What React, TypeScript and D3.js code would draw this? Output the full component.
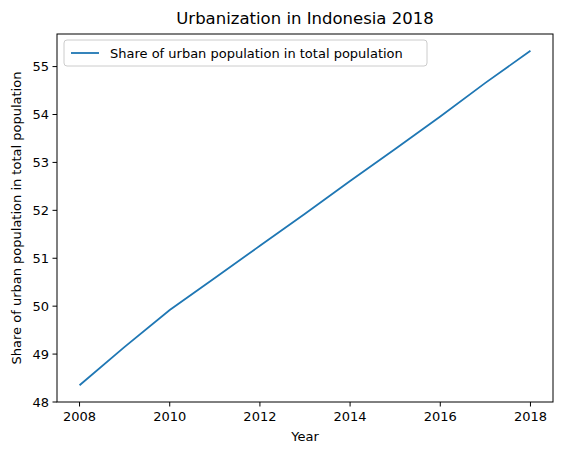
import React from "react";
import * as d3 from "d3";

const years = [2008, 2009, 2010, 2011, 2012, 2013, 2014, 2015, 2016, 2017, 2018];
const urbanShare = [48.35, 49.15, 49.92, 50.59, 51.26, 51.93, 52.61, 53.28, 53.96, 54.66, 55.33];
const xTicks = [2008, 2010, 2012, 2014, 2016, 2018];
const yTicks = [48, 49, 50, 51, 52, 53, 54, 55];

const W = 562;
const H = 455;
const left = 57;
const right = 553;
const top = 34;
const bottom = 402;
const blue = "#1f77b4";
const font = "DejaVu Sans, sans-serif";

export default function App() {
  const x = d3.scaleLinear().domain([2007.5, 2018.5]).range([left, right]);
  const y = d3.scaleLinear().domain([48.0, 55.68]).range([bottom, top]);
  const line = d3
    .line<number>()
    .x((_, i) => x(years[i]))
    .y((d) => y(d));

  return (
    <svg
      width={W}
      height={H}
      style={{ position: "absolute", left: 0, top: 0, background: "white" }}
      fontFamily={font}
    >
      <text x={(left + right) / 2} y={24} textAnchor="middle" fontSize={16.5}>
        Urbanization in Indonesia 2018
      </text>
      <path d={line(urbanShare) ?? ""} fill="none" stroke={blue} strokeWidth={1.8} />
      <rect x={left} y={top} width={right - left} height={bottom - top} fill="none" stroke="black" strokeWidth={1} />
      {xTicks.map((t) => (
        <g key={t} transform={`translate(${x(t)},${bottom})`}>
          <line y2={4.5} stroke="black" />
          <text y={19} textAnchor="middle" fontSize={13}>{t}</text>
        </g>
      ))}
      {yTicks.map((t) => (
        <g key={t} transform={`translate(${left},${y(t)})`}>
          <line x2={-4.5} stroke="black" />
          <text x={-8} dy="0.35em" textAnchor="end" fontSize={13}>{t}</text>
        </g>
      ))}
      <text x={(left + right) / 2} y={441} textAnchor="middle" fontSize={13}>Year</text>
      <text
        transform={`translate(21,${(top + bottom) / 2}) rotate(-90)`}
        textAnchor="middle"
        fontSize={13}
      >
        Share of urban population in total population
      </text>
      <g transform={`translate(${left + 7},${top + 6})`}>
        <rect width={363} height={26} rx={3} fill="white" stroke="#ccc" />
        <line x1={7} x2={35} y1={13} y2={13} stroke={blue} strokeWidth={1.8} />
        <text x={46} y={13} dy="0.35em" fontSize={13}>
          Share of urban population in total population
        </text>
      </g>
    </svg>
  );
}
